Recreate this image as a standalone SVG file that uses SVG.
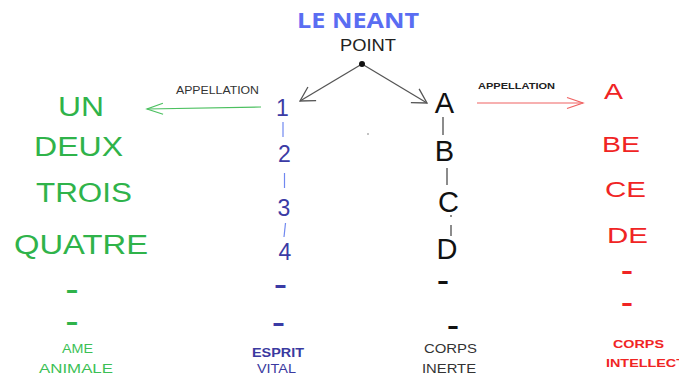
<svg xmlns="http://www.w3.org/2000/svg" width="679" height="376" viewBox="0 0 679 376">
<style>
text{font-family:"Liberation Sans",Arial,sans-serif}
.title{font-family:"Open Sans","Liberation Sans",sans-serif;font-weight:bold;font-size:22px;fill:#5a6df2}
.point{font-size:16px;fill:#222}
.app{font-size:11px;fill:#333}
.appb{font-size:9.5px;font-weight:bold;fill:#222}
.green{font-size:27px;fill:#2fb34a}
.greens{font-size:12.5px;fill:#3bbf55}
.blue{font-size:23px;fill:#3b3ba5;text-anchor:middle}
.blues{font-size:12px;fill:#3a3aa0}
.black{font-size:29px;fill:#111;text-anchor:middle}
.blacks{font-size:13px;fill:#333}
.red{font-size:22px;fill:#f02424}
.reds{font-size:10.5px;font-weight:bold;fill:#f02424}
.dash{font-weight:bold;font-size:26px;text-anchor:middle}
.gline{stroke:#666;stroke-width:1.5;fill:none}
.bline{stroke:#7088f0;stroke-width:1.2;fill:none}
</style>
<defs>
<marker id="mg" markerUnits="userSpaceOnUse" markerWidth="16" markerHeight="18" refX="14" refY="8" orient="auto" overflow="visible"><path d="M0,0 L14,8 L0,16" fill="none" stroke="#555" stroke-width="1.3"/></marker>
<marker id="mgr" markerUnits="userSpaceOnUse" markerWidth="18" markerHeight="12" refX="16" refY="5.5" orient="auto" overflow="visible"><path d="M0,0 L16,5.5 L0,11" fill="none" stroke="#4cc060" stroke-width="1.2"/></marker>
<marker id="mr" markerUnits="userSpaceOnUse" markerWidth="18" markerHeight="12" refX="16" refY="5.5" orient="auto" overflow="visible"><path d="M0,0 L16,5.5 L0,11" fill="none" stroke="#f06262" stroke-width="1.2"/></marker>
</defs>
<rect width="679" height="376" fill="#fff"/>

<g id="connectors">
<line x1="362" y1="64" x2="300" y2="101" stroke="#555" stroke-width="1.3" marker-end="url(#mg)"/>
<line x1="362" y1="64" x2="427" y2="103" stroke="#555" stroke-width="1.3" marker-end="url(#mg)"/>
<line x1="261" y1="107" x2="147" y2="109" stroke="#4cc060" stroke-width="1.2" marker-end="url(#mgr)"/>
<line x1="477" y1="103" x2="583" y2="103" stroke="#f06262" stroke-width="1.2" marker-end="url(#mr)"/>
<line class="gline" x1="443" y1="117" x2="443" y2="135"/>
<line class="gline" x1="447" y1="168" x2="447" y2="185"/>
<line class="gline" x1="451" y1="215" x2="451" y2="217"/>
<line class="gline" x1="451" y1="225" x2="451" y2="236"/>
<line class="bline" x1="283" y1="122" x2="283" y2="137"/>
<line class="bline" x1="284.5" y1="173" x2="284.5" y2="188"/>
<line class="bline" x1="285.5" y1="223" x2="284" y2="237"/>
</g>

<g id="title"><text class="title" x="297" y="28" textLength="122" lengthAdjust="spacingAndGlyphs">LE NEANT</text></g>
<g id="point">
<text class="point" x="340" y="51" textLength="56" lengthAdjust="spacingAndGlyphs">POINT</text>
<circle cx="362" cy="64" r="3" fill="#111"/>
</g>
<g id="label-appellation-left"><text class="app" x="176" y="94" textLength="83" lengthAdjust="spacingAndGlyphs">APPELLATION</text></g>
<g id="label-appellation-right"><text class="appb" x="478" y="89" textLength="77" lengthAdjust="spacingAndGlyphs">APPELLATION</text></g>

<g id="col-ame">
<text class="green" x="58" y="116" textLength="46" lengthAdjust="spacingAndGlyphs">UN</text>
<text class="green" x="34" y="156" textLength="89" lengthAdjust="spacingAndGlyphs">DEUX</text>
<text class="green" x="36" y="202" textLength="96" lengthAdjust="spacingAndGlyphs">TROIS</text>
<text class="green" x="14" y="254" textLength="134" lengthAdjust="spacingAndGlyphs">QUATRE</text>
<text class="dash" x="72" y="298" fill="#2fb34a" textLength="13" lengthAdjust="spacingAndGlyphs">-</text>
<text class="dash" x="72" y="330" fill="#2fb34a" textLength="13" lengthAdjust="spacingAndGlyphs">-</text>
<text class="greens" x="62" y="353" textLength="31" lengthAdjust="spacingAndGlyphs">AME</text>
<text class="greens" x="39" y="372.5" textLength="74" lengthAdjust="spacingAndGlyphs">ANIMALE</text>
</g>

<g id="col-esprit">
<text class="blue" x="282.5" y="116" fill="#4a42c0">1</text>
<text class="blue" x="284.5" y="162">2</text>
<text class="blue" x="284" y="216">3</text>
<text class="blue" x="285" y="260">4</text>
<text class="dash" x="280.5" y="292.5" fill="#3b3ba5" textLength="13" lengthAdjust="spacingAndGlyphs">-</text>
<text class="dash" x="278.5" y="330.5" fill="#3b3ba5" textLength="13" lengthAdjust="spacingAndGlyphs">-</text>
<text class="blues" x="252" y="357" font-weight="bold" textLength="52" lengthAdjust="spacingAndGlyphs">ESPRIT</text>
<text class="blues" x="257" y="373" textLength="39" lengthAdjust="spacingAndGlyphs">VITAL</text>
</g>

<g id="col-corps">
<text class="black" x="444.5" y="113">A</text>
<text class="black" x="444.5" y="161">B</text>
<text class="black" x="448.5" y="212">C</text>
<text class="black" x="447" y="259">D</text>
<text class="dash" x="443" y="288.5" fill="#111" font-size="24" textLength="12" lengthAdjust="spacingAndGlyphs">-</text>
<text class="dash" x="453" y="333.5" fill="#111" font-size="24" textLength="12" lengthAdjust="spacingAndGlyphs">-</text>
<text class="blacks" x="424" y="353" textLength="53" lengthAdjust="spacingAndGlyphs">CORPS</text>
<text class="blacks" x="422" y="372.5" textLength="54" lengthAdjust="spacingAndGlyphs">INERTE</text>
<circle cx="368" cy="134" r="0.8" fill="#777"/>
</g>

<g id="col-intellect">
<text class="red" x="604" y="99" textLength="19" lengthAdjust="spacingAndGlyphs">A</text>
<text class="red" x="602" y="152" textLength="38" lengthAdjust="spacingAndGlyphs">BE</text>
<text class="red" x="605" y="197" textLength="41" lengthAdjust="spacingAndGlyphs">CE</text>
<text class="red" x="607" y="243" textLength="41" lengthAdjust="spacingAndGlyphs">DE</text>
<text class="dash" x="627" y="278.5" fill="#f02424" font-size="22" textLength="12" lengthAdjust="spacingAndGlyphs">-</text>
<text class="dash" x="627" y="310.5" fill="#f02424" font-size="22" textLength="12" lengthAdjust="spacingAndGlyphs">-</text>
<text class="reds" x="613" y="348" textLength="51" lengthAdjust="spacingAndGlyphs">CORPS</text>
<text class="reds" x="606" y="367" textLength="79" lengthAdjust="spacingAndGlyphs">INTELLECT</text>
</g>
</svg>
